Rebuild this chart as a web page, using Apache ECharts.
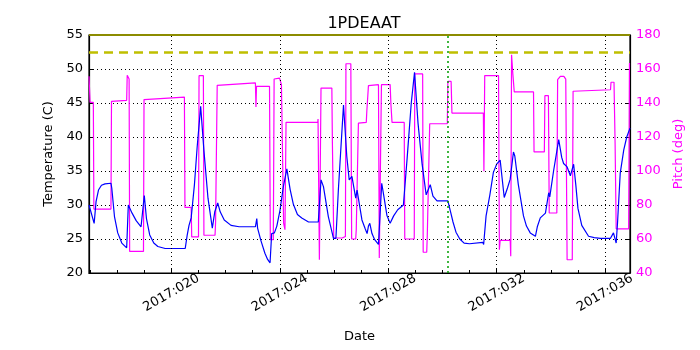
<!DOCTYPE html>
<html>
<head>
<meta charset="utf-8">
<script src="https://cdn.jsdelivr.net/npm/echarts@6/dist/echarts.min.js"></script>
<style>
  html, body { margin: 0; padding: 0; background: #fff; }
  #chart { width: 700px; height: 350px; }
</style>
</head>
<body>
<div id="chart"></div>
<script>
// day of year (2017) and temperature in C
var tempDays = [16.96, 17.15, 17.22, 17.31, 17.42, 17.55, 17.77, 17.80, 17.90, 18.02, 18.17, 18.35, 18.41, 18.55, 18.70, 18.88, 19.00, 19.08, 19.20, 19.35, 19.50, 19.77, 20.51, 20.58, 20.65, 20.73, 20.85, 20.95, 21.08, 21.20, 21.35, 21.51, 21.60, 21.71, 21.80, 21.95, 22.20, 22.50, 23.10, 23.15, 23.18, 23.30, 23.45, 23.55, 23.64, 23.70, 23.80, 23.89, 24.01, 24.13, 24.26, 24.38, 24.50, 24.65, 24.81, 25.06, 25.42, 25.52, 25.61, 25.79, 25.98, 26.07, 26.16, 26.35, 26.47, 26.56, 26.66, 26.80, 26.85, 27.03, 27.15, 27.22, 27.27, 27.32, 27.40, 27.50, 27.64, 27.76, 27.85, 27.95, 28.07, 28.20, 28.35, 28.56, 28.70, 28.85, 28.97, 29.10, 29.25, 29.40, 29.46, 29.55, 29.65, 29.80, 30.20, 30.30, 30.39, 30.50, 30.64, 30.80, 31.00, 31.49, 31.52, 31.61, 31.75, 31.88, 32.00, 32.13, 32.20, 32.28, 32.40, 32.50, 32.62, 32.67, 32.80, 32.99, 33.10, 33.24, 33.43, 33.50, 33.61, 33.80, 33.92, 33.96, 34.10, 34.29, 34.40, 34.47, 34.60, 34.72, 34.84, 34.92, 35.00, 35.14, 35.39, 35.60, 35.83, 36.20, 36.31, 36.41, 36.46, 36.56, 36.69, 36.80, 36.92];
var tempVals = [30.0, 27.3, 30.5, 32.2, 32.9, 33.1, 33.2, 32.5, 28.3, 25.9, 24.4, 23.7, 30.0, 28.8, 27.7, 26.8, 31.4, 28.0, 25.6, 24.4, 23.9, 23.6, 23.6, 25.5, 27.0, 28.1, 33.0, 38.5, 44.5, 38.0, 31.0, 26.6, 29.0, 30.3, 29.0, 27.8, 27.0, 26.8, 26.8, 28.0, 26.6, 24.8, 22.9, 22.0, 21.5, 25.8, 25.9, 26.9, 29.3, 32.7, 35.3, 32.3, 30.1, 28.6, 28.1, 27.5, 27.5, 33.7, 32.7, 28.3, 25.1, 25.1, 32.2, 44.7, 37.2, 33.7, 34.2, 31.0, 32.2, 27.8, 26.5, 25.8, 26.9, 27.3, 25.8, 24.9, 24.2, 33.2, 31.0, 28.5, 27.3, 28.4, 29.3, 30.0, 37.0, 45.0, 49.5, 42.0, 36.0, 31.5, 31.5, 33.0, 31.3, 30.6, 30.6, 29.0, 27.5, 26.0, 25.0, 24.4, 24.3, 24.5, 24.2, 28.4, 31.5, 34.8, 36.0, 36.6, 34.0, 31.1, 32.5, 33.8, 37.8, 37.2, 33.0, 28.4, 26.9, 25.9, 25.4, 26.8, 28.1, 28.8, 31.8, 31.2, 35.0, 39.6, 37.0, 36.1, 35.6, 34.3, 36.0, 33.0, 29.5, 27.0, 25.4, 25.2, 25.1, 25.1, 25.9, 24.4, 27.4, 34.7, 38.1, 40.0, 41.3];

// day of year (2017) and pitch in deg
var pitchDays = [16.96, 17.00, 17.00, 17.12, 17.14, 17.77, 17.79, 18.35, 18.37, 18.41, 18.44, 18.46, 18.97, 18.99, 20.48, 20.50, 20.73, 20.75, 21.00, 21.02, 21.18, 21.20, 21.61, 21.63, 21.67, 21.69, 23.10, 23.12, 23.14, 23.62, 23.65, 23.76, 23.79, 23.99, 24.02, 24.06, 24.12, 24.14, 24.19, 24.23, 25.40, 25.41, 25.44, 25.46, 25.50, 25.52, 25.92, 25.94, 25.97, 25.99, 26.30, 26.32, 26.42, 26.44, 26.62, 26.65, 26.80, 26.82, 26.88, 26.90, 27.19, 27.21, 27.25, 27.27, 27.64, 27.67, 27.72, 27.75, 28.07, 28.10, 28.14, 28.59, 28.61, 28.96, 28.98, 29.27, 29.29, 29.42, 29.44, 29.50, 29.53, 30.18, 30.20, 30.32, 30.35, 31.51, 31.53, 31.56, 32.07, 32.10, 32.13, 32.50, 32.52, 32.55, 32.60, 32.65, 33.36, 33.38, 33.76, 33.78, 33.91, 33.94, 34.22, 34.25, 34.35, 34.48, 34.55, 34.60, 34.79, 34.82, 36.20, 36.22, 36.33, 36.37, 36.41, 36.87, 36.90];
var pitchVals = [155.7, 155.7, 140.4, 140.4, 77.6, 77.6, 141.0, 141.6, 156.3, 155.5, 154.1, 52.7, 52.7, 142.0, 143.5, 78.6, 78.6, 61.2, 61.2, 156.1, 156.1, 62.2, 62.2, 69.8, 69.8, 150.4, 151.8, 137.6, 149.8, 149.8, 59.6, 59.6, 154.1, 154.6, 155.7, 150.8, 150.0, 69.4, 65.5, 128.6, 128.6, 130.6, 130.6, 47.8, 47.8, 148.8, 148.8, 116.5, 116.5, 60.6, 60.6, 61.5, 61.5, 163.1, 163.1, 60.0, 60.0, 65.5, 65.5, 128.2, 128.6, 135.1, 135.1, 150.2, 150.8, 48.8, 48.8, 150.8, 150.8, 139.0, 128.6, 128.6, 60.0, 60.0, 157.1, 157.1, 52.2, 52.2, 61.5, 61.5, 127.8, 127.8, 152.7, 152.7, 134.1, 134.1, 99.8, 156.1, 156.1, 53.7, 59.2, 59.2, 49.8, 168.4, 156.7, 146.5, 146.5, 111.2, 111.2, 144.3, 144.3, 75.3, 75.3, 153.7, 155.7, 155.7, 154.0, 47.8, 47.8, 146.9, 147.8, 152.2, 152.2, 116.5, 66.0, 66.0, 163.5];

var majorDays = [20, 24, 28, 32, 36];
var minorDays = [17, 18, 19, 20, 21, 22, 23, 24, 25, 26, 27, 28, 29, 30, 31, 32, 33, 34, 35, 36];
var tempLimit = 52.5;
var markerDay = 30.21;

var FONT = 'DejaVu Sans';

function zip(xs, ys) {
    return xs.map(function (x, i) { return [x, ys[i]]; });
}

var myChart = echarts.init(document.getElementById('chart'));
var option = {
    animation: false,
    backgroundColor: '#fff',
    title: {
        text: '1PDEAAT',
        left: 359,
        top: 11,
        textAlign: 'center',
        textStyle: { fontFamily: FONT, fontSize: 16, fontWeight: 'normal', color: '#000' }
    },
    grid: {
        left: 89, top: 35, width: 541, height: 238,
        show: true, borderColor: '#000', borderWidth: 1.2, backgroundColor: 'transparent'
    },
    xAxis: [{
        type: 'value',
        min: 16.96,
        max: 36.92,
        name: 'Date',
        nameLocation: 'middle',
        nameGap: 57,
        nameTextStyle: { fontFamily: FONT, fontSize: 13, color: '#000' },
        axisLine: { show: true, lineStyle: { color: '#000', width: 1.2 } },
        axisTick: { show: true, inside: true, length: 5, customValues: majorDays, lineStyle: { color: '#000' } },
        axisLabel: {
            customValues: majorDays,
            rotate: 30,
            align: 'center',
            verticalAlign: 'middle',
            margin: 20,
            fontFamily: FONT, fontSize: 13, color: '#000',
            formatter: function (v) { return '2017:0' + v; }
        },
        splitLine: { show: false }
    }, {
        type: 'value',
        min: 16.96,
        max: 36.92,
        position: 'bottom',
        axisLine: { show: false },
        axisTick: { show: true, inside: true, length: 3, customValues: minorDays, lineStyle: { color: '#000' } },
        axisLabel: { show: false },
        splitLine: { show: false }
    }],
    yAxis: [{
        type: 'value',
        min: 20,
        max: 55,
        interval: 5,
        name: 'Temperature (C)',
        nameLocation: 'middle',
        nameRotate: 90,
        nameGap: 33,
        nameTextStyle: { fontFamily: FONT, fontSize: 13, color: '#000' },
        axisLine: { show: true, lineStyle: { color: '#000', width: 1.2 } },
        axisTick: { show: true, inside: true, length: 5, lineStyle: { color: '#000' } },
        axisLabel: { fontFamily: FONT, fontSize: 13, color: '#000', margin: 6 },
        splitLine: { show: true, lineStyle: { color: '#000', type: [1, 3], width: 1 } }
    }, {
        type: 'value',
        min: 40,
        max: 180,
        interval: 20,
        position: 'right',
        name: 'Pitch (deg)',
        nameLocation: 'middle',
        nameRotate: 90,
        nameGap: 38,
        nameTextStyle: { fontFamily: FONT, fontSize: 13, color: '#ff00ff' },
        axisLine: { show: true, lineStyle: { color: '#000', width: 1.2 } },
        axisTick: { show: true, inside: true, length: 5, lineStyle: { color: '#000' } },
        axisLabel: { fontFamily: FONT, fontSize: 13, color: '#ff00ff', margin: 6 },
        splitLine: { show: false }
    }],
    series: [{
        name: 'Temperature',
        type: 'line',
        xAxisIndex: 0,
        yAxisIndex: 0,
        data: zip(tempDays, tempVals),
        showSymbol: false,
        symbol: 'none',
        lineStyle: { color: '#0000ff', width: 1.2 },
        z: 3,
        markLine: {
            silent: true,
            symbol: 'none',
            label: { show: false },
            data: majorDays.map(function (d) {
                return { xAxis: d, lineStyle: { color: '#000', type: [1, 3], width: 1 } };
            }).concat([
                { xAxis: markerDay, lineStyle: { color: '#00a000', type: [2, 3], width: 1.5 } },
                { yAxis: tempLimit, lineStyle: { color: '#bfbf00', type: [9, 6], width: 2.5 } },
                { yAxis: 55, lineStyle: { color: '#8c8c00', type: 'solid', width: 2 } }
            ])
        }
    }, {
        name: 'Pitch',
        type: 'line',
        xAxisIndex: 0,
        yAxisIndex: 1,
        data: zip(pitchDays, pitchVals),
        showSymbol: false,
        symbol: 'none',
        lineStyle: { color: '#ff00ff', width: 1.2 },
        z: 2
    }]
};
myChart.setOption(option);
</script>
</body>
</html>
